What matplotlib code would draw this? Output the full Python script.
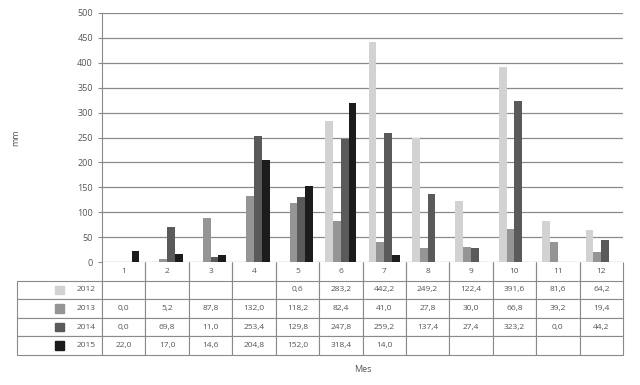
import numpy as np
import matplotlib
matplotlib.use("Agg")
import matplotlib.pyplot as plt
from matplotlib.patches import Rectangle

# Data (mm per month)
months = [str(m) for m in range(1, 13)]
years = ["2012", "2013", "2014", "2015"]
r2012 = [None, None, None, None, 0.6, 283.2, 442.2, 249.2, 122.4, 391.6, 81.6, 64.2]
r2013 = [0.0, 5.2, 87.8, 132.0, 118.2, 82.4, 41.0, 27.8, 30.0, 66.8, 39.2, 19.4]
r2014 = [0.0, 69.8, 11.0, 253.4, 129.8, 247.8, 259.2, 137.4, 27.4, 323.2, 0.0, 44.2]
r2015 = [22.0, 17.0, 14.6, 204.8, 152.0, 318.4, 14.0, None, None, None, None, None]
series = [r2012, r2013, r2014, r2015]
colors = ["#d2d2d2", "#959595", "#5a5a5a", "#1c1c1c"]

plt.rcParams["font.family"] = ["Open Sans", "DejaVu Sans"]
txt_color = "#555555"
line_color = "#8a8a8a"

fig = plt.figure(figsize=(6.4, 3.85), dpi=100)
ax = fig.add_axes([102 / 640, 1 - 262 / 385, 521 / 640, 249 / 385])

x = np.arange(len(months))
bw = 0.18
for i, (vals, c) in enumerate(zip(series, colors)):
    v = [np.nan if a is None else a for a in vals]
    ax.bar(x + (i - 1.5) * bw, v, width=bw, color=c, zorder=3)

ax.set_xlim(-0.5, 11.5)
ax.set_ylim(0, 500)
ax.set_yticks(np.arange(0, 501, 50))
ax.yaxis.grid(True, color=line_color, linewidth=0.9, zorder=0)
ax.set_xticks([])
for s in ["top", "right", "bottom"]:
    ax.spines[s].set_visible(False)
ax.spines["left"].set_color(line_color)
ax.tick_params(axis="y", labelsize=6.5, colors=txt_color, length=3, color=line_color)
for lab in ax.get_yticklabels():
    lab.set_color(txt_color)
ax.set_ylabel("mm", fontsize=6.5, color=txt_color)
ax.yaxis.set_label_coords(-0.157, 0.5)

# data table below the plot
def fmt(a):
    return "" if a is None else f"{a:.1f}".replace(".", ",")

cell_text = [[""] + months]
for y, vals in zip(years, series):
    cell_text.append([y] + [fmt(a) for a in vals])

lab_w = 85 / 521
col_w = [lab_w] + [1 / 12] * 12
tbl = ax.table(cellText=cell_text, colWidths=col_w, cellLoc="center",
               bbox=[-lab_w, -93 / 249, 1 + lab_w, 93 / 249])
tbl.auto_set_font_size(False)
tbl.set_fontsize(6)
for (r, c), cell in tbl.get_celld().items():
    cell.set_edgecolor(line_color)
    cell.set_linewidth(0.8)
    cell.get_text().set_color(txt_color)
    if r == 0:
        cell.visible_edges = "" if c == 0 else "LR"
    if c == 0 and r > 0:
        cell.get_text().set_ha("left")
        cell.PAD = 0.7

# legend swatches in the label column
row_h = 93 / 249 / 5
for i, c in enumerate(colors):
    yc = -row_h * (i + 1.5)
    ax.add_patch(Rectangle((-lab_w + 0.073, yc - 0.017), 0.017, 0.034,
                           transform=ax.transAxes, color=c, clip_on=False))

fig.text(363 / 640, 1 - 370 / 385, "Mes", fontsize=6.5, color=txt_color, ha="center", va="center")

fig.savefig("out.png", dpi=100)
